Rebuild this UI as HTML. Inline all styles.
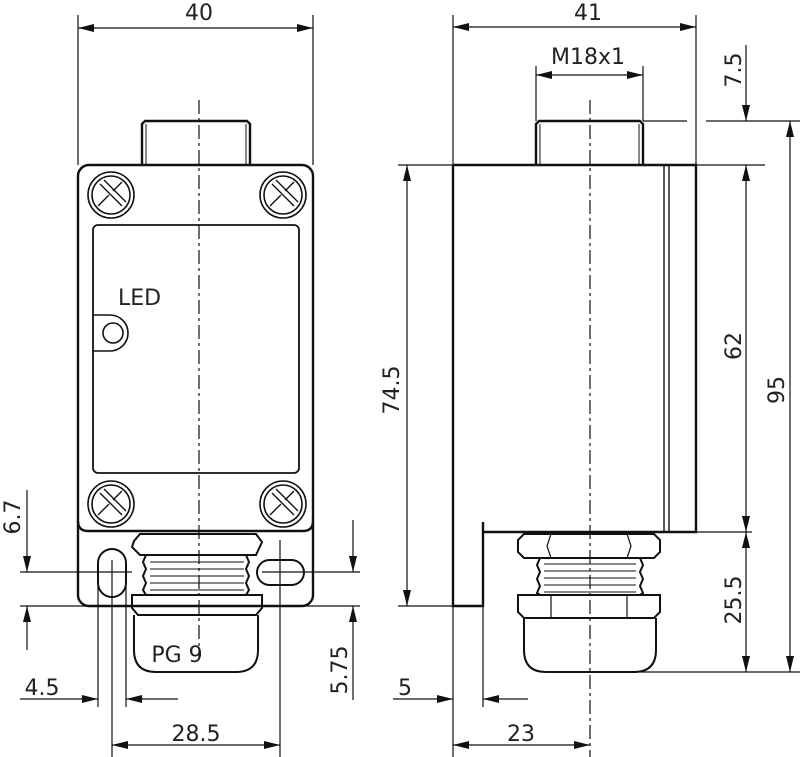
<!DOCTYPE html>
<html><head><meta charset="utf-8"><style>
html,body{margin:0;padding:0;background:#fff;}
svg{display:block;}
text{font-family:"DejaVu Sans","Liberation Sans",sans-serif;font-size:22px;fill:#222;}
</style></head><body>
<svg width="800" height="757" viewBox="0 0 800 757" xmlns="http://www.w3.org/2000/svg">
<defs>
<marker id="a" viewBox="0 0 16 8" refX="16" refY="4" markerWidth="16" markerHeight="8" markerUnits="userSpaceOnUse" orient="auto-start-reverse"><path d="M0,0 L16,4 L0,8 z" fill="#111"/></marker>
</defs>
<g fill="none" stroke="#111" stroke-width="2.4">
<path d="M142,165 V124 l3,-3 H247 l3,3 V165"/>
<line x1="146" y1="124" x2="146" y2="165" stroke-width="1"/><line x1="246" y1="124" x2="246" y2="165" stroke-width="1"/>
<rect x="78" y="165" width="235" height="441" rx="11"/>
<path d="M78,521 q0,10 10,10 H303 q10,0 10,-10"/>
<rect x="93" y="225" width="206" height="248" rx="5" stroke-width="1.8"/>
<g stroke-width="1.6">
<circle cx="111" cy="195" r="23"/><circle cx="111" cy="195" r="19"/>
<circle cx="283" cy="195" r="23"/><circle cx="283" cy="195" r="19"/>
<circle cx="111" cy="504" r="23"/><circle cx="111" cy="504" r="19"/>
<circle cx="283" cy="504" r="23"/><circle cx="283" cy="504" r="19"/>
</g>
<g stroke-width="1.4">
<path d="M100,184 l22,22 M104,180 l22,22 M98,206 l11,-11 M113,191 l9,-9"/>
<path d="M272,184 l22,22 M276,180 l22,22 M270,206 l11,-11 M285,191 l9,-9"/>
<path d="M100,493 l22,22 M104,489 l22,22 M98,515 l11,-11 M113,500 l9,-9"/>
<path d="M272,493 l22,22 M276,489 l22,22 M270,515 l11,-11 M285,500 l9,-9"/>
</g>
<circle cx="113" cy="333" r="10" stroke-width="1.6"/>
<path d="M93,315 H110 a18,18 0 0 1 0,36 H93" stroke-width="1.6"/>
<rect x="98" y="549" width="28" height="48" rx="14" stroke-width="2"/>
<rect x="257" y="560" width="47" height="25" rx="12.5" stroke-width="2"/>
<path d="M140,534 H256 l6,8 l-6,13 H140 l-8,-8 l2,-6 z" stroke-width="2"/>
<path d="M146,555 l-3,7 3,7 -3,7 3,7 -3,7 3,5 M246,555 l3,7 -3,7 3,7 -3,7 3,7 -3,5" stroke-width="2"/>
<path d="M150,562 H244 M150,569 H244 M150,576 H244 M150,583 H244 M150,590 H244" stroke-width="1"/>
<path d="M132,595 H262 V608 l-6,7 H138 l-6,-7 z" stroke-width="2"/>
<path d="M134,615 V650 q0,22 22,22 H236 q22,0 22,-22 V615" stroke-width="2"/>
<line x1="199" y1="100" x2="199" y2="660" stroke-width="1.2" stroke-dasharray="14,4,3,4"/>
<path d="M536,165 V124 l3,-3 H640 l3,3 V165"/>
<line x1="540" y1="124" x2="540" y2="165" stroke-width="1"/><line x1="639" y1="124" x2="639" y2="165" stroke-width="1"/>
<path d="M453,165 H696 V532 H483 M453,165 V606 H483 V522"/>
<line x1="664" y1="165" x2="664" y2="532" stroke-width="1.4"/><line x1="669" y1="165" x2="669" y2="532" stroke-width="1.4"/>
<path d="M524,534 H654 l6,6 V552 l-6,6 H524 l-6,-6 V540 z" stroke-width="2"/>
<path d="M551,534 l-4,12 4,12 M627,534 l4,12 -4,12" stroke-width="1.2"/>
<path d="M540,558 l-3,7 3,7 -3,7 3,7 -3,7 3,2 M640,558 l3,7 -3,7 3,7 -3,7 3,7 -3,2" stroke-width="2"/>
<path d="M544,564 H636 M544,571 H636 M544,578 H636 M544,585 H636 M544,592 H636" stroke-width="1"/>
<path d="M518,595 H660 V612 l-6,6 H524 l-6,-6 z" stroke-width="2"/>
<path d="M551,595 V618 M627,595 V618" stroke-width="1.2"/>
<path d="M524,618 V650 q0,22 22,22 H634 q22,0 22,-22 V618" stroke-width="2"/>
<line x1="590" y1="100" x2="590" y2="757" stroke-width="1.2" stroke-dasharray="14,4,3,4"/>
</g>
<g fill="none" stroke="#111" stroke-width="1.2">
<line x1="78" y1="15" x2="78" y2="165"/><line x1="313" y1="15" x2="313" y2="165"/>
<line x1="78" y1="28" x2="313" y2="28" marker-start="url(#a)" marker-end="url(#a)"/>
<line x1="27" y1="490" x2="27" y2="572" marker-end="url(#a)"/>
<line x1="27" y1="650" x2="27" y2="606" marker-end="url(#a)"/>
<line x1="20" y1="572" x2="132" y2="572"/><line x1="20" y1="606" x2="132" y2="606"/>
<line x1="353" y1="520" x2="353" y2="572" marker-end="url(#a)"/>
<line x1="353" y1="700" x2="353" y2="606" marker-end="url(#a)"/>
<line x1="262" y1="572" x2="360" y2="572"/><line x1="262" y1="606" x2="360" y2="606"/>
<line x1="98" y1="585" x2="98" y2="707"/><line x1="126" y1="585" x2="126" y2="707"/>
<line x1="20" y1="699" x2="98" y2="699" marker-end="url(#a)"/>
<line x1="178" y1="699" x2="126" y2="699" marker-end="url(#a)"/>
<line x1="112" y1="560" x2="112" y2="757"/><line x1="280" y1="540" x2="280" y2="757"/>
<line x1="112" y1="745" x2="280" y2="745" marker-start="url(#a)" marker-end="url(#a)"/>
<line x1="453" y1="15" x2="453" y2="165"/><line x1="696" y1="15" x2="696" y2="165"/>
<line x1="453" y1="27" x2="696" y2="27" marker-start="url(#a)" marker-end="url(#a)"/>
<line x1="536" y1="66" x2="536" y2="121"/><line x1="643" y1="66" x2="643" y2="121"/>
<line x1="536" y1="75" x2="643" y2="75" marker-start="url(#a)" marker-end="url(#a)"/>
<line x1="643" y1="121" x2="687" y2="121"/><line x1="706" y1="121" x2="800" y2="121"/>
<line x1="746" y1="45" x2="746" y2="121" marker-end="url(#a)"/>
<line x1="696" y1="165" x2="765" y2="165"/><line x1="696" y1="532" x2="752" y2="532"/>
<line x1="746" y1="165" x2="746" y2="532" marker-start="url(#a)" marker-end="url(#a)"/>
<line x1="746" y1="532" x2="746" y2="672" marker-start="url(#a)" marker-end="url(#a)"/>
<line x1="640" y1="672" x2="800" y2="672"/>
<line x1="790" y1="121" x2="790" y2="672" marker-start="url(#a)" marker-end="url(#a)"/>
<line x1="398" y1="165" x2="453" y2="165"/><line x1="398" y1="606" x2="453" y2="606"/>
<line x1="407" y1="165" x2="407" y2="606" marker-start="url(#a)" marker-end="url(#a)"/>
<line x1="453" y1="606" x2="453" y2="757"/><line x1="483" y1="606" x2="483" y2="707"/>
<line x1="393" y1="699" x2="453" y2="699" marker-end="url(#a)"/>
<line x1="528" y1="699" x2="483" y2="699" marker-end="url(#a)"/>
<line x1="453" y1="745" x2="590" y2="745" marker-start="url(#a)" marker-end="url(#a)"/>
</g>
<text x="199" y="20" text-anchor="middle">40</text>
<text x="588" y="20" text-anchor="middle">41</text>
<text x="588" y="64" text-anchor="middle">M18x1</text>
<text x="118" y="305" font-size="20">LED</text>
<text x="177" y="662" text-anchor="middle" font-size="21">PG 9</text>
<text x="42" y="695" text-anchor="middle">4.5</text>
<text x="196" y="741" text-anchor="middle">28.5</text>
<text x="405" y="695" text-anchor="middle">5</text>
<text x="521" y="741" text-anchor="middle">23</text>
<text transform="translate(20,517) rotate(-90)" text-anchor="middle">6.7</text>
<text transform="translate(347,670) rotate(-90)" text-anchor="middle">5.75</text>
<text transform="translate(399,390) rotate(-90)" text-anchor="middle">74.5</text>
<text transform="translate(741,70) rotate(-90)" text-anchor="middle">7.5</text>
<text transform="translate(741,346) rotate(-90)" text-anchor="middle">62</text>
<text transform="translate(784,390) rotate(-90)" text-anchor="middle">95</text>
<text transform="translate(741,600) rotate(-90)" text-anchor="middle">25.5</text>
</svg>
</body></html>
